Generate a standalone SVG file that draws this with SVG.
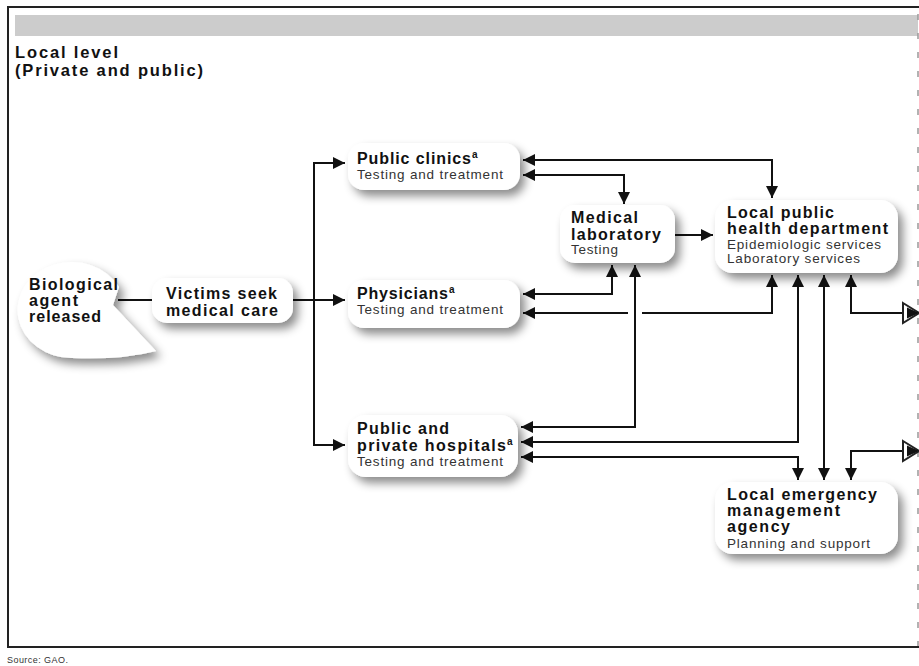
<svg xmlns="http://www.w3.org/2000/svg" width="919" height="666" viewBox="0 0 919 666">
<defs>
<style>
.frame{stroke:#222;stroke-width:2;fill:none}
.band{fill:#cccccc}
.node{fill:#ffffff;filter:url(#shadow)}
.h{font-family:"Liberation Sans",Arial,sans-serif;font-weight:bold;font-size:16px;fill:#111}
.t{font-family:"Liberation Sans",Arial,sans-serif;font-size:13.5px;fill:#333}
.sup{font-family:"Liberation Sans",Arial,sans-serif;font-weight:bold;font-size:10px;fill:#111}
.title{font-family:"Liberation Sans",Arial,sans-serif;font-weight:bold;font-size:16.5px;fill:#111}
.src{font-family:"Liberation Sans",Arial,sans-serif;font-size:9px;fill:#333}
.c{stroke:#111;stroke-width:2;fill:none}
.a{marker-end:url(#ah)}
.ab{marker-end:url(#ah);marker-start:url(#ah)}
.hollow{fill:#fff;stroke:#222;stroke-width:2}
</style>
<filter id="shadow" x="-20%" y="-20%" width="150%" height="160%">
<feDropShadow dx="5" dy="6" stdDeviation="5" flood-color="#000" flood-opacity="0.45"/>
</filter>
<marker id="ah" viewBox="0 0 12 12" refX="12" refY="6" markerWidth="12" markerHeight="12" markerUnits="userSpaceOnUse" orient="auto-start-reverse">
<path d="M0,0 L12,6 L0,12 Z" fill="#111"/>
</marker>
</defs>
<rect x="0" y="0" width="919" height="666" fill="#fff"/>
<g id="frame">
<rect class="band" x="15" y="15" width="903" height="21"/>
<path class="frame" d="M8,648 V7 H919"/>
<path class="frame" d="M8,647 H919"/>
<line x1="918" y1="14" x2="918" y2="646" stroke="#999" stroke-width="1.5" stroke-dasharray="6 13"/>
<text class="title" x="15" y="58" textLength="103">Local level</text>
<text class="title" x="15" y="76" textLength="188">(Private and public)</text>
<text class="src" x="7" y="663" textLength="61">Source: GAO.</text>
</g>
<g id="connectors">
<path class="c" d="M118,300 H152" stroke="#444"/>
<path class="c a" d="M293,300 H345"/>
<path class="c a" d="M314,300 V163 H345"/>
<path class="c a" d="M314,300 V445 H345"/>
<path class="c ab" d="M523,160 H772 V198"/>
<path class="c ab" d="M523,175 H624 V204"/>
<path class="c a" d="M675,235 H713"/>
<path class="c ab" d="M523,294 H612 V265"/>
<path class="c a" d="M628,313 H523"/>
<path class="c a" d="M642,313 H772 V275"/>
<path class="c ab" d="M521,427 H635 V265"/>
<path class="c ab" d="M521,442 H798 V275"/>
<path class="c ab" d="M521,457 H798 V480"/>
<path class="c ab" d="M824,275 V480"/>
<path class="c" d="M851,275 V313 H903"/>
<path class="c" d="M851,480 V451 H903"/>
<path d="M851,275 l-6,12 h12 z" fill="#111"/>
<path d="M851,480 l-6,-12 h12 z" fill="#111"/>
<path class="hollow" d="M903,303 L919,313 L903,323 Z"/>
<path d="M907,307.5 L919,313 L907,318.5 Z" fill="#111"/>
<path class="hollow" d="M903,441 L919,451 L903,461 Z"/>
<path d="M907,445.5 L919,451 L907,456.5 Z" fill="#111"/>
</g>
<g id="n-bio">
<path class="node" d="M119,287 A54,48 0 1 0 72,358 Q122,360 156,351 L113,305 Z"/>
<text class="h" x="29" y="290" textLength="89">Biological</text>
<text class="h" x="29" y="306" textLength="49">agent</text>
<text class="h" x="29" y="322" textLength="72">released</text>
</g>
<g id="n-victims">
<rect class="node" x="152" y="278" width="141" height="45" rx="15"/>
<text class="h" x="166" y="299" textLength="111">Victims seek</text>
<text class="h" x="166" y="316" textLength="112">medical care</text>
</g>
<g id="n-clinics">
<rect class="node" x="348" y="143" width="172" height="47" rx="16"/>
<text class="h" x="357" y="164" textLength="114">Public clinics</text>
<text class="sup" x="472" y="158">a</text>
<text class="t" x="357" y="179" textLength="146">Testing and treatment</text>
</g>
<g id="n-physicians">
<rect class="node" x="348" y="280" width="172" height="48" rx="16"/>
<text class="h" x="357" y="299" textLength="91">Physicians</text>
<text class="sup" x="449" y="293">a</text>
<text class="t" x="357" y="314" textLength="146">Testing and treatment</text>
</g>
<g id="n-hospitals">
<rect class="node" x="348" y="415" width="170" height="62" rx="18"/>
<text class="h" x="357" y="434" textLength="92">Public and</text>
<text class="h" x="357" y="451" textLength="149">private hospitals</text>
<text class="sup" x="507" y="445">a</text>
<text class="t" x="357" y="466" textLength="146">Testing and treatment</text>
</g>
<g id="n-medlab">
<rect class="node" x="560" y="205" width="115" height="58" rx="15"/>
<text class="h" x="571" y="223" textLength="67">Medical</text>
<text class="h" x="571" y="240" textLength="90">laboratory</text>
<text class="t" x="571" y="254" textLength="47">Testing</text>
</g>
<g id="n-lph">
<rect class="node" x="715" y="200" width="183" height="73" rx="18"/>
<text class="h" x="727" y="218" textLength="107">Local public</text>
<text class="h" x="727" y="234" textLength="161">health department</text>
<text class="t" x="727" y="249" textLength="154">Epidemiologic services</text>
<text class="t" x="727" y="263" textLength="133">Laboratory services</text>
</g>
<g id="n-lema">
<rect class="node" x="715" y="482" width="183" height="72" rx="18"/>
<text class="h" x="727" y="500" textLength="150">Local emergency</text>
<text class="h" x="727" y="516" textLength="113">management</text>
<text class="h" x="727" y="532" textLength="63">agency</text>
<text class="t" x="727" y="548" textLength="143">Planning and support</text>
</g>
</svg>
